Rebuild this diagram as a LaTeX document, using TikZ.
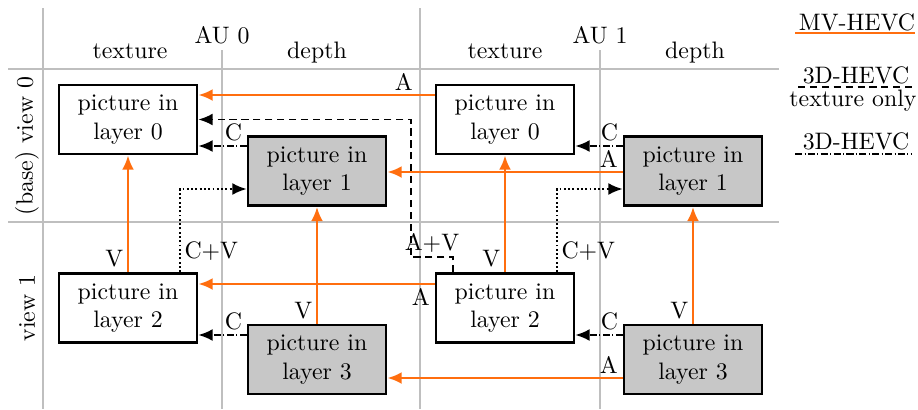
\documentclass[tikz,border=0pt]{standalone}
\usepackage{amsmath}
\usepackage{tikz}
\usetikzlibrary{arrows.meta}
\usetikzlibrary{positioning}
\usetikzlibrary{calc}
\definecolor{mvorange}{RGB}{255,110,15}

\begin{document}
\begin{tikzpicture}[x=0.42pt, y=-0.42pt,
    layerbox/.style={draw, line width=1.1pt, fill=white, minimum width=58pt, minimum height=29pt, align=center, inner sep=2pt},
    layerdepth/.style={layerbox, fill=black!22},
    gridline/.style={draw=black!25, line width=0.9pt},
    mv/.style={draw=mvorange, line width=1.1pt, -{Latex[length=6pt,width=5pt]}},
    texonly/.style={densely dashed, line width=0.8pt, -{Latex[length=6pt,width=5pt]}},
    cdep/.style={densely dashdotted, line width=0.8pt, -{Latex[length=6pt,width=5pt]}},
    cvdep/.style={densely dotted, line width=0.8pt, -{Latex[length=6pt,width=5pt]}},
    lbl/.style={inner sep=1.5pt}]
        \useasboundingbox (0,0) rectangle (918,409);

        % grid
        \draw[gridline] (43,8) -- (43,409);
        \draw[gridline] (420,8) -- (420,409);
        \draw[gridline] (222,50) -- (222,409);
        \draw[gridline] (600,50) -- (600,409);
        \draw[gridline] (8,69) -- (779,69);
        \draw[gridline] (8,222) -- (779,222);

        \node[anchor=base] (au0) at (222,43) {AU 0};
        \node[anchor=base] (au1) at (600,43) {AU 1};
        \node[anchor=base] (tex0) at (130,58) {texture};
        \node[anchor=base] (dep0) at (317,58) {depth};
        \node[anchor=base] (tex1) at (505,58) {texture};
        \node[anchor=base] (dep1) at (695,58) {depth};
        \node[rotate=90] (view0) at (27,146) {(base) view 0};
        \node[rotate=90] (view1) at (27,308) {view 1};

        % pictures
        \node[layerbox] (t0a) at (128,119.5) {picture in\\layer 0};
        \node[layerdepth] (d0a) at (317,171) {picture in\\layer 1};
        \node[layerbox] (t0b) at (505,119.5) {picture in\\layer 0};
        \node[layerdepth] (d0b) at (693,171) {picture in\\layer 1};
        \node[layerbox] (t1a) at (128,308) {picture in\\layer 2};
        \node[layerdepth] (d1a) at (317,359.5) {picture in\\layer 3};
        \node[layerbox] (t1b) at (505,308) {picture in\\layer 2};
        \node[layerdepth] (d1b) at (693,359.5) {picture in\\layer 3};

        % 3D-HEVC
        \draw[texonly] (t1b.north -| 453,0) |- node[lbl, pos=0.75, above] {A+V} (411,257) |- (t0a.east);
        \draw[cvdep] (t1a.north -| 180,0) |- node[lbl, pos=0.125, right] {C+V} (d0a.west |- 0,189);
        \draw[cvdep] (t1b.north -| 557,0) |- node[lbl, pos=0.125, right] {C+V} (d0b.west |- 0,189);
        \draw[cdep] (d0a.west |- 0,146) -- node[lbl, pos=0, above left] {C} (t0a.east |- 0,146);
        \draw[cdep] (d0b.west |- 0,146) -- node[lbl, pos=0, above left] {C} (t0b.east |- 0,146);
        \draw[cdep] (d1a.west |- 0,335) -- node[lbl, pos=0, above left] {C} (t1a.east |- 0,335);
        \draw[cdep] (d1b.west |- 0,335) -- node[lbl, pos=0, above left] {C} (t1b.east |- 0,335);

        % MV-HEVC
        \draw[mv] (t0b.west |- 0,95) -- node[lbl, pos=0.13, above] {A} (t0a.east |- 0,95);
        \draw[mv] (d0b.west |- 0,172) -- node[lbl, pos=0, above left] {A} (d0a.east |- 0,172);
        \draw[mv] (t1b.west |- 0,284) -- node[lbl, pos=0, below left] {A} (t1a.east |- 0,284);
        \draw[mv] (d1b.west |- 0,378) -- node[lbl, pos=0, above left] {A} (d1a.east |- 0,378);
        \draw[mv] (t1a.north) -- node[lbl, pos=0, above left] {V} (t0a.south);
        \draw[mv] (d1a.north) -- node[lbl, pos=0, above left] {V} (d0a.south);
        \draw[mv] (t1b.north) -- node[lbl, pos=0, above left] {V} (t0b.south);
        \draw[mv] (d1b.north) -- node[lbl, pos=0, above left] {V} (d0b.south);

        % legend
        \node (mvleg) at (857,22) {MV-HEVC};
        \draw[draw=mvorange, line width=1.1pt] (795,33) -- (915,33);
        \node (texleg) at (856,75) {3D-HEVC};
        \draw[densely dashed, line width=0.8pt] (798,87) -- (912,87);
        \node (texonlyleg) at (853,101) {texture only};
        \node (depleg) at (856,141) {3D-HEVC};
        \draw[densely dashdotted, line width=0.8pt] (795,154) -- (912,154);
      \end{tikzpicture}
\end{document}
